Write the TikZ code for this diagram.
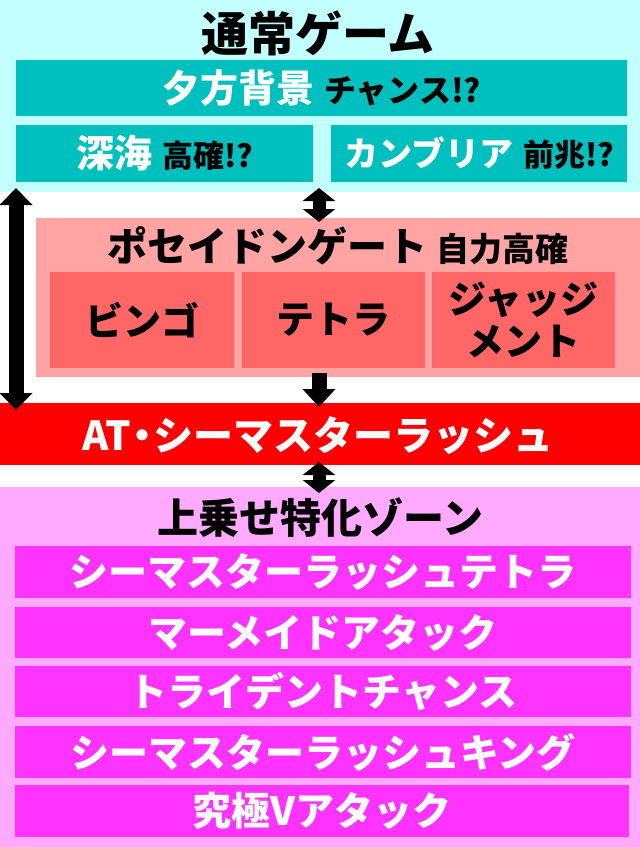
\documentclass[tikz,border=0pt]{standalone}
\usepackage{fontspec}
\setmainfont{Noto Sans CJK JP}
\usepackage{tikz}
\usetikzlibrary{arrows.meta}

\definecolor{paleCyan}{HTML}{C4FFFF}
\definecolor{tealBox}{HTML}{00BFBF}
\definecolor{salmonBg}{HTML}{FFA3A3}
\definecolor{coralBox}{HTML}{FF6666}
\definecolor{atRed}{HTML}{FF0000}
\definecolor{palePink}{HTML}{FFAAFF}
\definecolor{magentaBox}{HTML}{FF33FF}

\tikzset{
  panel/.style={anchor=north west, inner sep=0pt, outer sep=0pt},
  sz/.style={font=\bfseries\fontsize{#1}{#1}\selectfont},
  blockarrow/.style={line width=15pt, black, -{Triangle[width=32pt,length=18pt]}},
  twoway/.style={line width=15pt, black, {Triangle[width=32pt,length=17pt]}-{Triangle[width=32pt,length=17pt]}},
  shorttwoway/.style={line width=13pt, black, {Triangle[width=32pt,length=13pt]}-{Triangle[width=32pt,length=13pt]}},
}

\begin{document}
\begin{tikzpicture}[x=1pt,y=-1pt]
  \useasboundingbox (0,0) rectangle (640,847);

  % normal game
  \node[panel, fill=paleCyan, minimum width=640pt, minimum height=192pt] (normal) at (0,0) {};
  \node[sz=47, inner sep=0pt] (normaltitle) at (318,33) {通常ゲーム};
  \node[panel, fill=tealBox, minimum width=611pt, minimum height=56pt, text=white] (sunset) at (16,60)
    {{\fontsize{38}{38}\selectfont\bfseries 夕方背景}\hspace{10pt}{\color{black}\fontsize{32}{32}\selectfont\bfseries チャンス!?}};
  \node[panel, fill=tealBox, minimum width=297pt, minimum height=57pt, text=white] (deepsea) at (16,125)
    {{\fontsize{38}{38}\selectfont\bfseries 深海}\hspace{10pt}{\color{black}\fontsize{31}{31}\selectfont\bfseries 高確!?}};
  \node[panel, fill=tealBox, minimum width=296pt, minimum height=57pt, text=white] (cambria) at (331,125)
    {{\fontsize{34}{34}\selectfont\bfseries カンブリア}\hspace{10pt}{\color{black}\fontsize{31}{31}\selectfont\bfseries 前兆!?}};

  % poseidon gate
  \node[panel, fill=salmonBg, minimum width=604pt, minimum height=159pt] (gate) at (36,218) {};
  \node[inner sep=0pt] (gatetitle) at (338,246)
    {{\fontsize{40}{40}\selectfont\bfseries ポセイドンゲート}\hspace{10pt}{\fontsize{33}{33}\selectfont\bfseries 自力高確}};
  \node[panel, fill=coralBox, minimum width=184pt, minimum height=96pt, sz=38] (bingo) at (50,272) {ビンゴ};
  \node[panel, fill=coralBox, minimum width=183pt, minimum height=96pt, sz=38] (tetra) at (242,272) {テトラ};
  \node[panel, fill=coralBox, minimum width=183pt, minimum height=96pt, sz=38, align=center,
        font=\bfseries\fontsize{38}{42}\selectfont] (judgment) at (432,272) {ジャッジ\\メント};

  % AT
  \node[panel, fill=atRed, minimum width=640pt, minimum height=62pt] (atrush) at (0,403) {};
  \node[sz=40, text=white, inner sep=0pt] (attitle) at (318,436) {AT\kern-9pt・\kern-9ptシーマスターラッシュ};

  % upper zone
  \node[panel, fill=palePink, minimum width=640pt, minimum height=360pt] (zone) at (0,487) {};
  \node[sz=41, inner sep=0pt] (zonetitle) at (320,518) {上乗せ特化ゾーン};
  \node[panel, fill=magentaBox, minimum width=616pt, minimum height=52pt, sz=39, text=white] (zoneA) at (15,546) {シーマスターラッシュテトラ};
  \node[panel, fill=magentaBox, minimum width=616pt, minimum height=51pt, sz=39, text=white] (zoneB) at (15,607) {マーメイドアタック};
  \node[panel, fill=magentaBox, minimum width=616pt, minimum height=51pt, sz=39, text=white] (zoneC) at (15,666) {トライデントチャンス};
  \node[panel, fill=magentaBox, minimum width=616pt, minimum height=52pt, sz=39, text=white] (zoneD) at (15,726) {シーマスターラッシュキング};
  \node[panel, fill=magentaBox, minimum width=614pt, minimum height=52pt, sz=39, text=white] (zoneE) at (15,785) {究極Vアタック};

  % arrows
  \draw[twoway, shorten <=-4pt, shorten >=-7pt] ([xshift=16pt]normal.south west) -- ([xshift=16pt]atrush.north west);
  \draw[shorttwoway, shorten <=-4pt, shorten >=-4pt] ([xshift=-1pt]normal.south) -- ([xshift=-1pt]normal.south |- gate.north);
  \draw[blockarrow, shorten <=-4pt, shorten >=-4pt] ([xshift=-1pt]atrush.north |- gate.south) -- ([xshift=-1pt]atrush.north);
  \draw[shorttwoway, shorten <=-3pt, shorten >=-6pt] ([xshift=-1pt]atrush.south) -- ([xshift=-1pt]atrush.south |- zone.north);

\end{tikzpicture}
\end{document}
